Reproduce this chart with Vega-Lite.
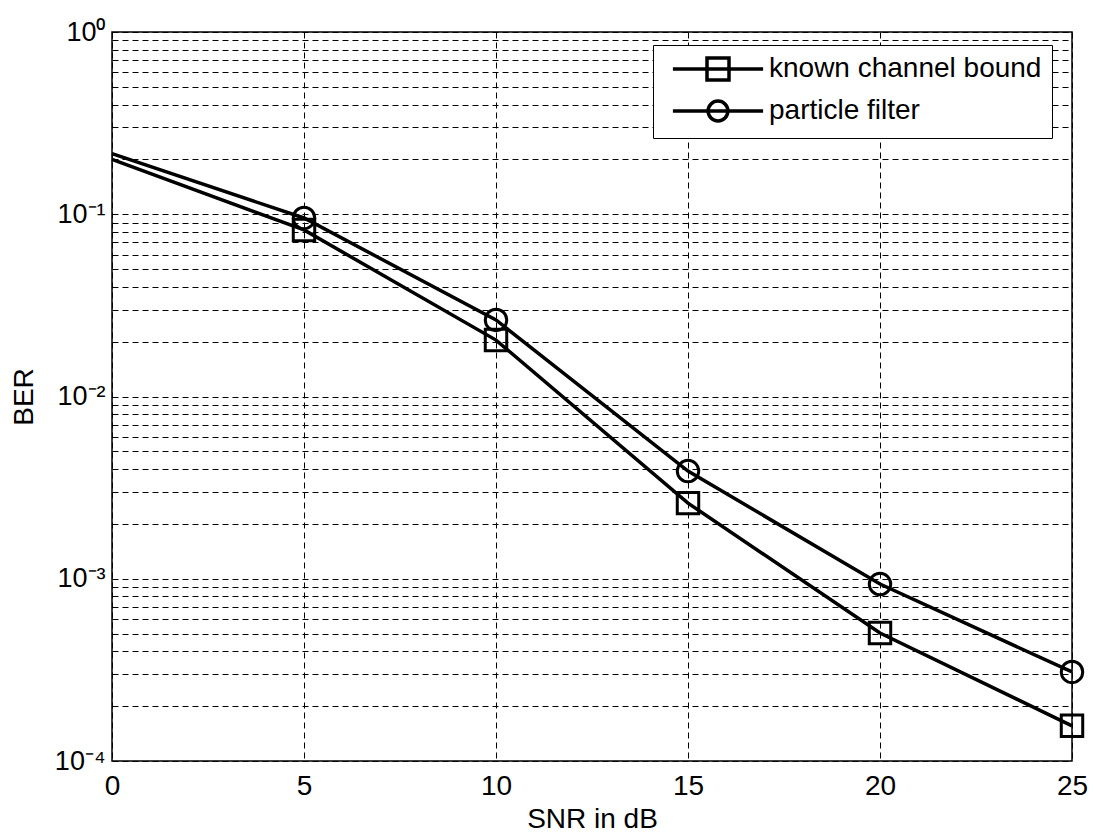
{
  "$schema": "https://vega.github.io/schema/vega-lite/v6.json",
  "width": 960,
  "height": 729,
  "autosize": {"type": "none"},
  "padding": {"left": 112, "top": 32, "right": 23, "bottom": 78},
  "background": "white",
  "config": {
    "font": "Liberation Sans",
    "view": {"stroke": "black", "strokeWidth": 1.5}
  },
  "data": {
    "values": [
      {"snr": 0, "ber": 0.2, "series": "known channel bound"},
      {"snr": 5, "ber": 0.082, "series": "known channel bound"},
      {"snr": 10, "ber": 0.0204, "series": "known channel bound"},
      {"snr": 15, "ber": 0.0026, "series": "known channel bound"},
      {"snr": 20, "ber": 0.000504, "series": "known channel bound"},
      {"snr": 25, "ber": 0.000156, "series": "known channel bound"},
      {"snr": 0, "ber": 0.215, "series": "particle filter"},
      {"snr": 5, "ber": 0.0954, "series": "particle filter"},
      {"snr": 10, "ber": 0.0263, "series": "particle filter"},
      {"snr": 15, "ber": 0.0039, "series": "particle filter"},
      {"snr": 20, "ber": 0.000935, "series": "particle filter"},
      {"snr": 25, "ber": 0.000308, "series": "particle filter"}
    ]
  },
  "encoding": {
    "x": {
      "field": "snr", "type": "quantitative",
      "scale": {"domain": [0, 25], "nice": false, "zero": false},
      "axis": {
        "title": "SNR in dB",
        "values": [0, 5, 10, 15, 20, 25],
        "grid": true, "gridColor": "black", "gridDash": [6, 4], "gridWidth": 1, "gridOpacity": 1,
        "domain": false, "ticks": false,
        "labelFontSize": 28, "labelColor": "black", "labelPadding": 11,
        "labelFlush": false,
        "titleFontSize": 28, "titleFontWeight": "normal", "titleColor": "black", "titlePadding": 5
      }
    },
    "y": {
      "field": "ber", "type": "quantitative",
      "scale": {"type": "log", "domain": [0.0001, 1], "nice": false},
      "axis": {
        "title": "BER",
        "values": [0.0001, 0.0002, 0.0003, 0.0004, 0.0005, 0.0006, 0.0007, 0.0008, 0.0009,
                   0.001, 0.002, 0.003, 0.004, 0.005, 0.006, 0.007, 0.008, 0.009,
                   0.01, 0.02, 0.03, 0.04, 0.05, 0.06, 0.07, 0.08, 0.09,
                   0.1, 0.2, 0.3, 0.4, 0.5, 0.6, 0.7, 0.8, 0.9, 1],
        "labelExpr": "abs(log(datum.value)/LN10 - round(log(datum.value)/LN10)) < 1e-6 ? '10' + replace(replace(replace(replace(replace(replace('' + round(log(datum.value)/LN10), '-', '⁻'), '0', '⁰'), '1', '¹'), '2', '²'), '3', '³'), '4', '⁴') : ''",
        "grid": true, "gridColor": "black", "gridDash": [6, 4], "gridWidth": 1, "gridOpacity": 1,
        "domain": false, "ticks": false,
        "labelFontSize": 27, "labelColor": "black", "labelPadding": 7,
        "labelFlush": false, "labelOverlap": false,
        "titleFontSize": 28, "titleFontWeight": "normal", "titleColor": "black", "titlePadding": 16
      }
    }
  },
  "layer": [
    {
      "mark": {"type": "line", "color": "black", "strokeWidth": 3.5},
      "encoding": {"detail": {"field": "series"}}
    },
    {
      "transform": [{"filter": "datum.snr > 0"}],
      "mark": {"type": "point", "filled": false, "color": "black", "strokeWidth": 3, "size": 460, "opacity": 1},
      "encoding": {
        "shape": {
          "field": "series", "type": "nominal",
          "scale": {"domain": ["known channel bound", "particle filter"], "range": ["square", "circle"]},
          "legend": null
        }
      }
    },
    {
      "transform": [{"filter": "datum.snr < 0"}],
      "mark": {"type": "point", "filled": false, "color": "black", "strokeWidth": 3.5, "opacity": 1},
      "encoding": {
        "shape": {
          "field": "series", "type": "nominal",
          "scale": {
            "domain": ["known channel bound", "particle filter"],
            "range": ["M-4.1,0H4.1M-1,-1H1V1H-1Z", "M-4.1,0H4.1M-0.9,0A0.9,0.9,0,1,1,0.9,0A0.9,0.9,0,1,1,-0.9,0Z"]
          },
          "legend": {
            "title": null,
            "orient": "none",
            "legendX": 541,
            "legendY": 13,
            "fillColor": "white",
            "strokeColor": "black",
            "padding": 10,
            "symbolOffset": 41,
            "symbolSize": 484,
            "symbolStrokeWidth": 3.5,
            "symbolStrokeColor": "black",
            "symbolFillColor": "transparent",
            "symbolOpacity": 1,
            "labelFontSize": 28,
            "labelColor": "black",
            "labelOffset": 37,
            "labelLimit": 500,
            "rowPadding": 7
          }
        }
      }
    }
  ],
  "resolve": {"scale": {"shape": "independent"}}
}
